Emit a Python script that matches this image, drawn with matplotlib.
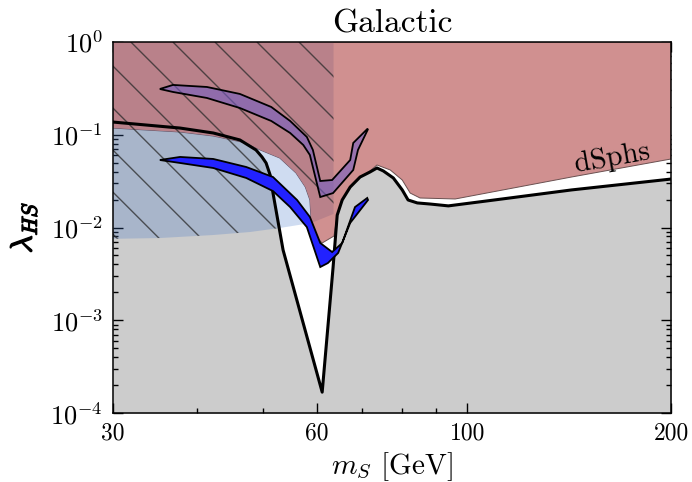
import numpy as np
import matplotlib
matplotlib.use("Agg")
import matplotlib.pyplot as plt
import matplotlib.patheffects as pe
from matplotlib.collections import LineCollection
from matplotlib.patches import Polygon
from matplotlib.ticker import FixedLocator, FixedFormatter, LogFormatterMathtext, LogLocator

plt.rcParams["font.family"] = "serif"
plt.rcParams["font.serif"] = ["cmr10", "DejaVu Serif"]
plt.rcParams["mathtext.fontset"] = "cm"
plt.rcParams["axes.formatter.use_mathtext"] = True

# Galactic limit (black curve, grey region below is allowed)
m_gal = [30, 37.7, 42.2, 46.2, 48.8, 49.8, 50.5, 51.2, 51.7, 53.5, 61.1,
         63.4, 64.3, 65.4, 67.2, 69.5, 71.9, 73.6, 75.2, 77.8, 80.2, 81.8,
         84.4, 88.2, 93.8, 112.6, 142.5, 200]
lam_gal = [0.137, 0.118, 0.1044, 0.0878, 0.0685, 0.0576, 0.0496, 0.0368,
           0.0235, 0.00572, 0.000168, 0.0037, 0.0136, 0.0198, 0.0273, 0.035,
           0.0397, 0.0438, 0.0407, 0.0342, 0.0254, 0.0198, 0.0184, 0.0179,
           0.0171, 0.0203, 0.0254, 0.0333]

# dSphs exclusion, lower edge
m_dsph = [30, 37.7, 42.2, 47.2, 49.5, 52.9, 55.9, 57.7, 58.6, 59.0, 61.1,
          63.6, 64.3, 65.4, 67.2, 69.5, 71.9, 73.6, 77.0, 80.2, 82.4, 85.2,
          96.0, 142.5, 200]
lam_dsph = [0.118, 0.107, 0.0969, 0.0815, 0.0685, 0.0561, 0.0387, 0.0273,
            0.0198, 0.00873, 0.00681, 0.0081, 0.0136, 0.0198, 0.0273, 0.035,
            0.0407, 0.0472, 0.0417, 0.0325, 0.0235, 0.0208, 0.0203, 0.035,
            0.0548]

# light blue region: top edge shared with dSphs, bottom edge below
n_blue_top = 9
m_blue_low = [30, 35.2, 42.2, 47.8, 52.9, 58.9]
lam_blue_low = [0.00755, 0.0077, 0.0083, 0.00894, 0.00988, 0.0112]

# hatched (Higgs invisible) region, m_S < m_h/2
m_inv_max = 63.5
lam_inv_floor = 0.014

# purple band
m_purp_a = [35.2, 36.8, 41.3, 46.2, 51.4, 54.8, 58.0, 59.2, 60.7, 63.2, 67.2, 67.9, 71.2]
lam_purp_a = [0.311, 0.344, 0.327, 0.275, 0.199, 0.1406, 0.0946, 0.0685, 0.0317,
              0.0325, 0.0534, 0.0815, 0.115]
m_purp_b = [36.8, 41.3, 46.2, 51.4, 54.8, 57.3, 58.6, 60.7, 63.4, 67.9, 69.0, 71.4]
lam_purp_b = [0.289, 0.249, 0.194, 0.1406, 0.1044, 0.0775, 0.0605, 0.0213,
              0.0235, 0.0417, 0.0685, 0.115]

# blue band
m_blue_a = [35.2, 37.7, 42.2, 47.2, 51.7, 56.1, 58.6, 60.7, 63.2, 65.4, 68.3, 71.2]
lam_blue_a = [0.0534, 0.0576, 0.0548, 0.0449, 0.035, 0.0198, 0.0130, 0.00681,
              0.00544, 0.00681, 0.0166, 0.0208]
m_blue_b = [37.7, 42.2, 47.2, 51.7, 54.8, 58.0, 60.7, 62.3, 64.5, 67.2, 71.4]
lam_blue_b = [0.0496, 0.0438, 0.0342, 0.0247, 0.0166, 0.0101, 0.00375, 0.00414,
              0.00531, 0.0112, 0.0198]

x_ticks = [30, 60, 100, 200]
x_minor = [40, 50, 70, 80, 90]


def band(ma, la, mb, lb):
    pts = list(zip(ma, la)) + list(zip(mb, lb))[::-1]
    return np.array(pts)


fig = plt.figure(figsize=(6.92, 4.82), dpi=100)
ax = fig.add_axes([0.163, 0.143, 0.807, 0.770])
ax.set_xscale("log")
ax.set_yscale("log")
ax.set_xlim(30, 200)
ax.set_ylim(1e-4, 1)

# grey: below galactic limit
ax.fill_between(m_gal, 1e-4, lam_gal, color="#cccccc", lw=0, zorder=1)

# dSphs region
red_pts = list(zip(m_dsph, lam_dsph)) + [(200, 1), (30, 1)]
red = Polygon(red_pts, closed=True, facecolor="#d09090", edgecolor="#6a5050",
              lw=0.7, zorder=2)
ax.add_patch(red)

# hatched region outline
inv_pts = [(30, 1), (m_inv_max, 1), (m_inv_max, lam_inv_floor)] + \
    list(zip(m_blue_low, lam_blue_low))[::-1]
inv_patch = Polygon(inv_pts, closed=True, facecolor="none", edgecolor="none")
ax.add_patch(inv_patch)

# darker red where the two exclusions overlap
dark = Polygon(inv_pts, closed=True, facecolor="#b9818a", edgecolor="none", zorder=3)
ax.add_patch(dark)
dark.set_clip_path(red)

# light blue region
blue_pts = list(zip(m_dsph[:n_blue_top], lam_dsph[:n_blue_top])) + \
    list(zip(m_blue_low, lam_blue_low))[::-1]
ax.add_patch(Polygon(blue_pts, closed=True, facecolor=(0.22, 0.43, 0.78, 0.24),
                     edgecolor="none", zorder=4))

# diagonal hatch lines, clipped to the hatched region
aspect = 558.0 / 371.0
offs = np.arange(-2.0, 2.5, 42.0 / 558)
segs = [[(o, 1.0), (o + 2.0, 1.0 - 2.0 * aspect)] for o in offs]
hatch = LineCollection(segs, colors="#2a2a2a", linewidths=1.0, alpha=0.75,
                       transform=ax.transAxes, zorder=5)
ax.add_collection(hatch)
hatch.set_clip_path(inv_patch)

# galactic limit line
ax.plot(m_gal, lam_gal, color="black", lw=2.2, zorder=6, solid_joinstyle="round")

# bands
ax.add_patch(Polygon(band(m_purp_a, lam_purp_a, m_purp_b, lam_purp_b), closed=True,
                     facecolor=(0.46, 0.37, 0.76, 0.6), edgecolor="black",
                     lw=1.3, zorder=7))
ax.add_patch(Polygon(band(m_blue_a, lam_blue_a, m_blue_b, lam_blue_b), closed=True,
                     facecolor="#2222ff", edgecolor="black", lw=1.3, zorder=7))

ax.text(163.7, 0.056, "dSphs", fontsize=21, rotation=10, ha="center",
        va="center", zorder=8)

# axes styling
ax.xaxis.set_major_locator(FixedLocator(x_ticks))
ax.xaxis.set_major_formatter(FixedFormatter([str(t) for t in x_ticks]))
ax.xaxis.set_minor_locator(FixedLocator(x_minor))
ax.xaxis.set_minor_formatter(FixedFormatter([""] * len(x_minor)))
ax.yaxis.set_major_locator(LogLocator(base=10, numticks=10))
ax.yaxis.set_major_formatter(LogFormatterMathtext())
ax.yaxis.set_minor_locator(LogLocator(base=10, subs=np.arange(2, 10), numticks=10))
ax.tick_params(which="both", direction="in", top=True, right=True, width=1.0)
ax.tick_params(which="major", length=7, pad=7)
ax.tick_params(axis="x", which="major", labelsize=17)
ax.tick_params(axis="y", which="major", labelsize=19)
ax.tick_params(which="minor", length=3.5)
for s in ax.spines.values():
    s.set_linewidth(1.1)
    s.set_zorder(10)

ax.set_title("Galactic", fontsize=24, pad=7)
ax.set_xlabel(r"$m_S$ [GeV]", fontsize=21, labelpad=4)
yl = ax.set_ylabel(r"$\lambda_{HS}$", fontsize=22, labelpad=8)
yl.set_path_effects([pe.withStroke(linewidth=1.0, foreground="black")])

fig.savefig("out.png", dpi=100)
